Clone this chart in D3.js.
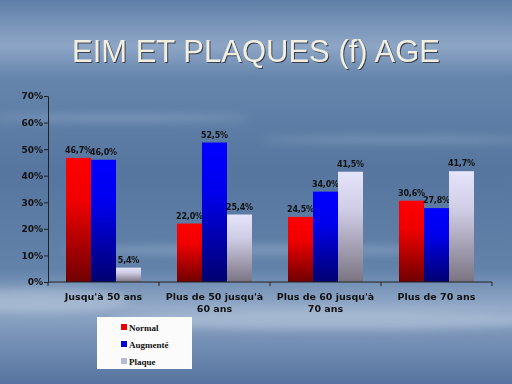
<!DOCTYPE html>
<html lang="fr">
<head>
<meta charset="utf-8">
<title>EIM et plaques</title>
<script src="https://d3js.org/d3.v7.min.js"></script>
<style>
  body { margin: 0; }
  svg { display: block; }
</style>
</head>
<body>
<div id="chart"></div>
<script>
// données
var categories = [["Jusqu'à 50 ans"], ["Plus de 50 jusqu'à", "60 ans"], ["Plus de 60 jusqu'à", "70 ans"], ["Plus de 70 ans"]]
var series = ["Normal", "Augmenté", "Plaque"]
var normal = [46.7, 22.0, 24.5, 30.6]
var augmente = [46.0, 52.5, 34.0, 27.8]
var plaque = [5.4, 25.4, 41.5, 41.7]
var yTicks = [0, 10, 20, 30, 40, 50, 60, 70]

var values = [normal, augmente, plaque]
var colors = [
  ["#ff0000", "#f00000", "#700000"],
  ["#0000ff", "#0000ee", "#000070"],
  ["#e4e4fa", "#cfcde6", "#7a7482"]
]
var swatch = ["#ee0000", "#0000dd", "#b8b8d8"]

var width = 512, height = 384
var x0 = 48, x1 = 492, yTop = 96, yBot = 282

var svg = d3.select("#chart").append("svg")
  .attr("width", width)
  .attr("height", height)
  .style("font-family", "'DejaVu Sans', Verdana, sans-serif")

var defs = svg.append("defs")

// fond ciel
var sky = defs.append("linearGradient").attr("id", "sky")
  .attr("x1", 0).attr("y1", 0).attr("x2", 0).attr("y2", 1)
var skyStops = [[0, "#5f7fa8"], [0.12, "#8ea6c6"], [0.2, "#6685ad"], [0.45, "#56769f"],
  [0.7, "#6282aa"], [0.8, "#93aac8"], [0.86, "#7d97ba"], [1, "#5674a0"]]
skyStops.forEach(function(s) {
  sky.append("stop").attr("offset", s[0]).attr("stop-color", s[1])
})
svg.append("rect").attr("width", width).attr("height", height).attr("fill", "url(#sky)")

// quelques traînées de nuages
var clouds = defs.append("filter").attr("id", "blur")
clouds.append("feGaussianBlur").attr("stdDeviation", 4)
var streaks = svg.append("g").attr("filter", "url(#blur)").attr("fill", "#c8d4e4")
streaks.append("ellipse").attr("cx", 120).attr("cy", 118).attr("rx", 130).attr("ry", 3).attr("opacity", 0.35)
streaks.append("ellipse").attr("cx", 400).attr("cy", 140).attr("rx", 140).attr("ry", 3).attr("opacity", 0.3)
streaks.append("ellipse").attr("cx", 260).attr("cy", 250).attr("rx", 200).attr("ry", 4).attr("opacity", 0.35)
streaks.append("ellipse").attr("cx", 330).attr("cy", 320).attr("rx", 220).attr("ry", 10).attr("opacity", 0.45)
streaks.append("ellipse").attr("cx", 40).attr("cy", 300).attr("rx", 90).attr("ry", 12).attr("opacity", 0.4)

// dégradés des barres
colors.forEach(function(c, i) {
  var g = defs.append("linearGradient").attr("id", "bar" + i)
    .attr("x1", 0).attr("y1", 0).attr("x2", 0).attr("y2", 1)
  g.append("stop").attr("offset", 0).attr("stop-color", c[0])
  g.append("stop").attr("offset", 0.35).attr("stop-color", c[1])
  g.append("stop").attr("offset", 1).attr("stop-color", c[2])
})

// titre
var title = "EIM ET PLAQUES (f) AGE"
svg.append("text").attr("x", 257).attr("y", 63).attr("text-anchor", "middle")
  .style("font-family", "'Liberation Sans', Arial, sans-serif").style("font-size", "31px")
  .attr("fill", "#3a4050").text(title)
svg.append("text").attr("x", 256).attr("y", 62).attr("text-anchor", "middle")
  .style("font-family", "'Liberation Sans', Arial, sans-serif").style("font-size", "31px")
  .attr("fill", "#f2efe0").text(title)

var x = d3.scaleBand().domain(d3.range(categories.length)).range([x0, x1]).paddingInner(0).paddingOuter(0)
var xs = d3.scaleBand().domain(d3.range(series.length)).range([18, x.bandwidth() - 18])
var y = d3.scaleLinear().domain([0, 70]).range([yBot, yTop])

// barres
values.forEach(function(vals, si) {
  var g = svg.append("g")
  g.selectAll("rect").data(vals).enter().append("rect")
    .attr("x", function(d, i) { return x(i) + xs(si) })
    .attr("y", function(d) { return y(d) })
    .attr("width", xs.bandwidth())
    .attr("height", function(d) { return y(0) - y(d) })
    .attr("fill", "url(#bar" + si + ")")
  g.selectAll("text").data(vals).enter().append("text")
    .attr("x", function(d, i) { return x(i) + xs(si) + xs.bandwidth() / 2 })
    .attr("y", function(d) { return y(d) - 5 })
    .attr("text-anchor", "middle")
    .style("font-size", "8px").style("font-weight", "bold")
    .style("letter-spacing", "-0.2px")
    .attr("fill", "#111")
    .text(function(d) { return d3.format(".1f")(d).replace(".", ",") + "%" })
})

// axe Y
var yAxis = svg.append("g").attr("transform", "translate(" + x0 + ",0)")
  .call(d3.axisLeft(y).tickValues(yTicks).tickSize(4).tickFormat(function(d) { return d + "%" }))
yAxis.selectAll("path, line").attr("stroke", "#222")
yAxis.selectAll("text").style("font-size", "9px").style("font-weight", "bold")
  .style("font-family", "'DejaVu Sans', Verdana, sans-serif").attr("fill", "#111").attr("x", -5)

// axe X
var xAxis = svg.append("g").attr("transform", "translate(0," + yBot + ")")
xAxis.append("line").attr("x1", x0).attr("x2", x1).attr("stroke", "#222")
xAxis.selectAll("line.tick").data(d3.range(categories.length + 1)).enter().append("line")
  .attr("class", "tick")
  .attr("x1", function(d) { return x0 + d * x.bandwidth() })
  .attr("x2", function(d) { return x0 + d * x.bandwidth() })
  .attr("y2", 4).attr("stroke", "#222")
categories.forEach(function(lines, i) {
  var t = xAxis.append("text").attr("text-anchor", "middle")
    .style("font-size", "9.5px").style("font-weight", "bold").attr("fill", "#111")
  lines.forEach(function(l, j) {
    t.append("tspan").attr("x", x(i) + x.bandwidth() / 2).attr("y", 18 + j * 12).text(l)
  })
})

// légende
var leg = svg.append("g").attr("transform", "translate(97,317)")
leg.append("rect").attr("width", 95).attr("height", 52).attr("fill", "#fbfbfb")
series.forEach(function(s, i) {
  var r = leg.append("g").attr("transform", "translate(0," + (10 + i * 17) + ")")
  r.append("rect").attr("x", 24).attr("y", -3).attr("width", 6).attr("height", 6).attr("fill", swatch[i])
  r.append("text").attr("x", 32).attr("y", 3.5)
    .style("font-family", "'Liberation Serif', 'Times New Roman', serif").style("font-size", "9px")
    .style("font-weight", "bold").attr("fill", "#111").text(s)
})
</script>
</body>
</html>
